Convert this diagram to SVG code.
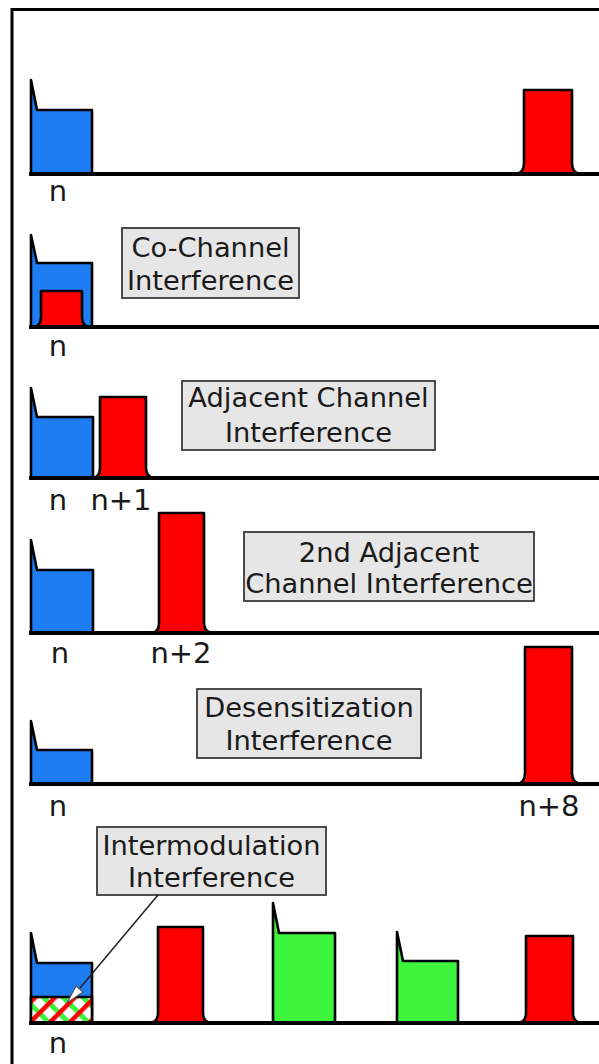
<svg xmlns="http://www.w3.org/2000/svg" width="599" height="1064" viewBox="0 0 599 1064">
  <style>
    .frame { fill: none; stroke: #000; stroke-width: 3; }
    .axis { stroke: #000; stroke-width: 4; }
    .pulse { stroke: #000; stroke-width: 2.6; stroke-linejoin: round; }
    .wanted { fill: #1f7df3; }
    .interferer { fill: #ff0000; }
    .other { fill: #3cf53c; }
    .box { fill: #e6e6e6; stroke: #3a3a3a; stroke-width: 1.8; }
    .boxtext { font-family: "DejaVu Sans", "Liberation Sans", sans-serif; font-size: 27.3px; fill: #1a1a1a; text-anchor: middle; }
    .chan { font-family: "DejaVu Sans", "Liberation Sans", sans-serif; font-size: 29px; fill: #1a1a1a; text-anchor: middle; }
    .leader { stroke: #222; stroke-width: 1.5; fill: none; }
    .tip { fill: #ffffff; stroke: #555; stroke-width: 1.2; }
  </style>
  <defs>
    <!-- crossed red / green hatching for the intermodulation product -->
    <pattern id="imHatch" width="14" height="14" patternUnits="userSpaceOnUse" patternTransform="rotate(45)">
      <rect width="14" height="14" fill="#ffffff"/>
      <rect x="0" y="0" width="14" height="5" fill="#3cf53c"/>
      <rect x="0" y="0" width="4.5" height="14" fill="#ff0000"/>
    </pattern>
  </defs>

  <rect width="599" height="1064" fill="#ffffff"/>
  <path class="frame" d="M12,1064 V9.5 H599"/>

  <!-- Row 1: wanted channel and distant signal -->
  <g id="row1">
    <path class="pulse wanted" d="M31,174 V80 L37,110 H92 V174 Z"/>
    <path class="pulse interferer" d="M516,174 Q524,173 524,163 V90 H572 V163 Q572,173 580,174 Z"/>
    <text class="chan" x="58" y="201">n</text>
  </g>

  <!-- Row 2: co-channel -->
  <g id="row2">
    <path class="pulse wanted" d="M31,327 V235 L37,263 H92 V327 Z"/>
    <path class="pulse interferer" d="M34,327 Q41,326 41,317 V291 H82 V317 Q82,326 89,327 Z"/>
    <text class="chan" x="58" y="356">n</text>
  </g>
  <g id="label-cochannel">
    <rect class="box" x="122" y="228" width="177" height="70"/>
    <text class="boxtext" x="210.5" y="257">Co-Channel</text>
    <text class="boxtext" x="210.5" y="290">Interference</text>
  </g>

  <!-- Row 3: adjacent channel -->
  <g id="row3">
    <path class="pulse wanted" d="M31,478 V388 L37,417 H93 V478 Z"/>
    <path class="pulse interferer" d="M93,478 Q100,477 100,468 V397 H146 V468 Q146,477 154,478 Z"/>
    <text class="chan" x="58" y="510">n</text>
    <text class="chan" x="121" y="510">n+1</text>
  </g>
  <g id="label-adjacent">
    <rect class="box" x="182" y="381" width="253" height="69"/>
    <text class="boxtext" x="308.5" y="407">Adjacent Channel</text>
    <text class="boxtext" x="308.5" y="442">Interference</text>
  </g>

  <!-- Row 4: second adjacent channel -->
  <g id="row4">
    <path class="pulse wanted" d="M31,633 V540 L37,570 H93 V633 Z"/>
    <path class="pulse interferer" d="M152,633 Q159,632 159,623 V513 H204 V623 Q204,632 212,633 Z"/>
    <text class="chan" x="60" y="663">n</text>
    <text class="chan" x="181" y="663">n+2</text>
  </g>
  <g id="label-2nd-adjacent">
    <rect class="box" x="244" y="532" width="290" height="69"/>
    <text class="boxtext" x="389" y="562">2nd Adjacent</text>
    <text class="boxtext" x="389" y="593">Channel Interference</text>
  </g>

  <!-- Row 5: desensitization -->
  <g id="row5">
    <path class="pulse wanted" d="M31,784 V721 L37,750 H92 V784 Z"/>
    <path class="pulse interferer" d="M517,784 Q525,783 525,773 V647 H572 V773 Q572,783 581,784 Z"/>
    <text class="chan" x="58" y="816">n</text>
    <text class="chan" x="549" y="816">n+8</text>
  </g>
  <g id="label-desensitization">
    <rect class="box" x="197" y="689" width="224" height="69"/>
    <text class="boxtext" x="309" y="717">Desensitization</text>
    <text class="boxtext" x="309" y="750">Interference</text>
  </g>

  <!-- Row 6: intermodulation -->
  <g id="row6">
    <path class="pulse wanted" d="M31,1023 V933 L37,963 H92 V1023 Z"/>
    <rect class="pulse" x="31" y="997" width="61" height="26" fill="url(#imHatch)"/>
    <path class="pulse interferer" d="M150,1023 Q158,1022 158,1013 V927 H203 V1013 Q203,1022 211,1023 Z"/>
    <path class="pulse other" d="M273,1023 V903 L279,933 H335 V1023 Z"/>
    <path class="pulse other" d="M397,1023 V932 L403,961 H458 V1023 Z"/>
    <path class="pulse interferer" d="M518,1023 Q526,1022 526,1013 V936 H573 V1013 Q573,1022 581,1023 Z"/>
    <text class="chan" x="58" y="1053">n</text>
  </g>
  <g id="label-intermodulation">
    <rect class="box" x="97" y="827" width="229" height="68"/>
    <text class="boxtext" x="211.5" y="855">Intermodulation</text>
    <text class="boxtext" x="211.5" y="887">Interference</text>
  </g>

  <!-- frequency axes and the label pointer -->
  <g id="connectors">
    <line class="axis" x1="29" y1="174" x2="599" y2="174"/>
    <line class="axis" x1="29" y1="327" x2="599" y2="327"/>
    <line class="axis" x1="29" y1="478" x2="599" y2="478"/>
    <line class="axis" x1="29" y1="633" x2="599" y2="633"/>
    <line class="axis" x1="29" y1="784" x2="599" y2="784"/>
    <line class="axis" x1="29" y1="1023" x2="599" y2="1023"/>
    <line class="leader" x1="158" y1="895" x2="80" y2="988"/>
    <polygon class="tip" points="67,1003 83,992 76,986"/>
  </g>
</svg>
